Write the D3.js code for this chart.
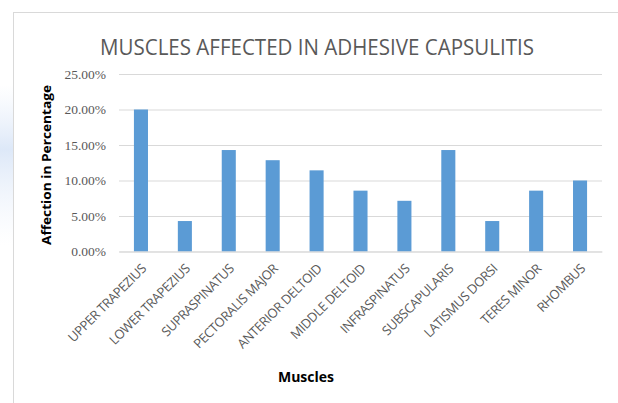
<!DOCTYPE html>
<html>
<head>
<meta charset="utf-8">
<script src="https://cdn.jsdelivr.net/npm/d3@7"></script>
<style>
  body { margin: 0; background: #fff; }
  svg { display: block; }
</style>
</head>
<body>
<div id="chart"></div>
<script>
// Data
const muscles = ['UPPER TRAPEZIUS', 'LOWER TRAPEZIUS', 'SUPRASPINATUS', 'PECTORALIS MAJOR',
    'ANTERIOR DELTOID', 'MIDDLE DELTOID', 'INFRASPINATUS', 'SUBSCAPULARIS',
    'LATISMUS DORSI', 'TERES MINOR', 'RHOMBUS'];
const affection = [0.20, 0.0429, 0.1429, 0.1286, 0.1143, 0.0857, 0.0714, 0.1429, 0.0429, 0.0857, 0.10];
const yTicks = [0, 0.05, 0.10, 0.15, 0.20, 0.25];

const width = 618, height = 403;
const margin = { top: 74, right: 16, bottom: 151.5, left: 119 };
const innerW = width - margin.left - margin.right;
const innerH = height - margin.top - margin.bottom;

const svg = d3.select('#chart')
    .append('svg')
    .attr('width', width)
    .attr('height', height);

// faint watermark on the left, outside the chart frame
const defs = svg.append('defs');
const grad = defs.append('linearGradient').attr('id', 'wm').attr('x1', 0).attr('y1', 0).attr('x2', 0).attr('y2', 1);
grad.append('stop').attr('offset', '0%').attr('stop-color', '#e6eefa').attr('stop-opacity', 0);
grad.append('stop').attr('offset', '40%').attr('stop-color', '#dde8f8').attr('stop-opacity', 1);
grad.append('stop').attr('offset', '100%').attr('stop-color', '#eef3fb').attr('stop-opacity', 0);
svg.append('rect')
    .attr('x', 0).attr('y', 85).attr('width', 13).attr('height', 160)
    .attr('fill', 'url(#wm)');

// chart frame
svg.append('rect')
    .attr('x', 13.5).attr('y', 12.5)
    .attr('width', width + 10).attr('height', height + 10)
    .attr('fill', '#fff')
    .attr('stroke', '#d9d9d9')
    .attr('stroke-width', 1);

// Title
svg.append('text')
    .attr('x', 317)
    .attr('y', 55)
    .attr('text-anchor', 'middle')
    .attr('textLength', 434)
    .attr('lengthAdjust', 'spacingAndGlyphs')
    .style('font-family', 'Open Sans, sans-serif')
    .style('font-size', '21px')
    .style('fill', '#595959')
    .text('MUSCLES AFFECTED IN ADHESIVE CAPSULITIS');

const g = svg.append('g')
    .attr('transform', `translate(${margin.left},${margin.top})`);

const xScale = d3.scaleBand()
    .domain(muscles)
    .range([0, innerW])
    .paddingInner(0.68)
    .paddingOuter(0.34);

const yScale = d3.scaleLinear()
    .domain([0, 0.25])
    .range([innerH, 0]);

// Grid lines
g.append('g')
    .attr('class', 'grid')
    .call(d3.axisLeft(yScale)
        .tickValues(yTicks)
        .tickSize(-innerW)
        .tickFormat(''))
    .call(s => s.select('.domain').remove())
    .call(s => s.selectAll('line').attr('stroke', '#d9d9d9').attr('stroke-width', 1));

// Y axis labels
g.append('g')
    .call(d3.axisLeft(yScale)
        .tickValues(yTicks)
        .tickSize(0)
        .tickPadding(13)
        .tickFormat(d => (d * 100).toFixed(2) + '%'))
    .call(s => s.select('.domain').remove())
    .call(s => s.selectAll('text')
        .style('font-family', 'Liberation Serif, serif')
        .style('font-size', '13.5px')
        .style('fill', '#595959'));

// Bars
g.selectAll('.bar')
    .data(muscles)
    .enter()
    .append('rect')
    .attr('class', 'bar')
    .attr('x', (d, i) => xScale(d))
    .attr('y', (d, i) => yScale(affection[i]))
    .attr('width', xScale.bandwidth())
    .attr('height', (d, i) => innerH - yScale(affection[i]))
    .attr('fill', '#5b9bd5');

// X axis
const xAxis = g.append('g')
    .attr('transform', `translate(0,${innerH})`)
    .call(d3.axisBottom(xScale).tickSize(0).tickPadding(0));
xAxis.select('.domain').attr('stroke', '#d9d9d9');
xAxis.selectAll('text')
    .attr('text-anchor', 'end')
    .attr('dy', 0)
    .attr('transform', 'translate(6,18) rotate(-45)')
    .style('font-family', 'Open Sans, sans-serif')
    .style('font-size', '13px')
    .style('letter-spacing', '-0.4px')
    .style('fill', '#595959');

// Axis titles
svg.append('text')
    .attr('x', 306)
    .attr('y', 382)
    .attr('text-anchor', 'middle')
    .style('font-family', 'Open Sans, sans-serif')
    .style('font-weight', 'bold')
    .style('font-size', '14px')
    .style('fill', '#000')
    .text('Muscles');

svg.append('text')
    .attr('transform', 'translate(51,165) rotate(-90)')
    .attr('text-anchor', 'middle')
    .attr('textLength', 160)
    .attr('lengthAdjust', 'spacingAndGlyphs')
    .style('font-family', 'Open Sans, sans-serif')
    .style('font-weight', 'bold')
    .style('font-size', '13px')
    .style('fill', '#000')
    .text('Affection in Percentage');
</script>
</body>
</html>
